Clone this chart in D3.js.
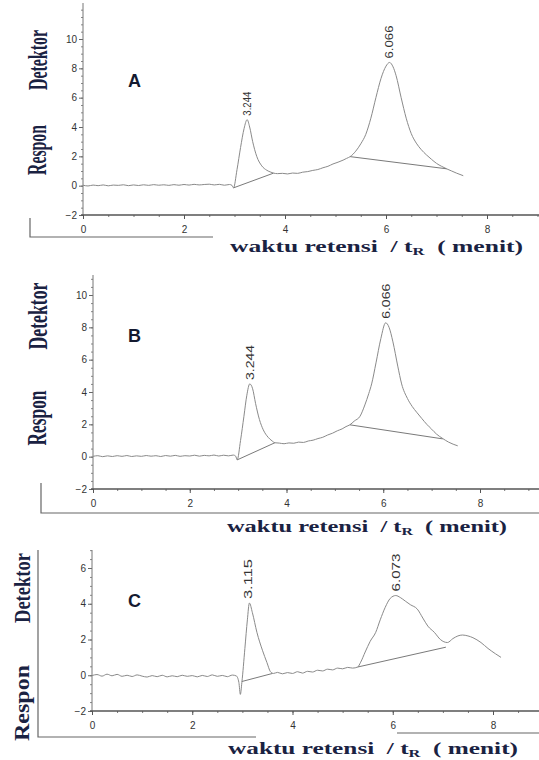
<!DOCTYPE html>
<html>
<head>
<meta charset="utf-8">
<script src="https://cdn.jsdelivr.net/npm/d3@7"></script>
<style>
body { margin: 0; background: #fff; }
svg { display: block; }
</style>
</head>
<body>
<div id="chart"></div>
<script>
// tick labels
const xTicks = [0, 2, 4, 6, 8]
const yTicksAB = [-2, 0, 2, 4, 6, 8, 10]
const yTicksC = [-2, 0, 2, 4, 6]

// chromatogram A : [waktu (menit), respon]
const traceA = [
    [0, 0.03], [0.1, -0.02], [0.2, 0.04], [0.3, 0.0], [0.4, 0.05], [0.5, -0.01], [0.6, 0.04], [0.7, 0.02],
    [0.8, 0.06], [0.9, 0.0], [1.0, 0.05], [1.1, 0.01], [1.2, 0.06], [1.3, 0.02], [1.4, 0.07], [1.5, 0.03],
    [1.6, 0.06], [1.7, 0.02], [1.8, 0.07], [1.9, 0.03], [2.0, 0.08], [2.1, 0.04], [2.2, 0.09], [2.3, 0.05],
    [2.4, 0.08], [2.5, 0.1], [2.6, 0.05], [2.7, 0.09], [2.8, 0.03], [2.9, 0.08], [2.95, 0.02], [2.98, -0.15],
    [3.05, 1.1], [3.12, 2.6], [3.19, 3.9], [3.25, 4.5], [3.3, 4.0], [3.36, 3.0], [3.44, 2.0], [3.54, 1.35],
    [3.64, 1.05], [3.72, 0.92], [3.77, 0.86], [3.85, 0.82], [3.95, 0.84], [4.05, 0.8], [4.15, 0.86], [4.25, 0.84],
    [4.35, 0.92], [4.45, 0.96], [4.55, 1.04], [4.65, 1.1], [4.75, 1.22], [4.85, 1.32], [4.95, 1.48], [5.05, 1.6],
    [5.15, 1.74], [5.22, 1.86], [5.29, 1.98], [5.4, 2.35], [5.5, 2.85], [5.6, 3.5], [5.7, 4.6], [5.8, 6.0],
    [5.9, 7.3], [6.0, 8.15], [6.07, 8.4], [6.14, 8.1], [6.2, 7.5], [6.3, 6.0], [6.4, 4.6], [6.5, 3.55],
    [6.6, 2.9], [6.7, 2.45], [6.8, 2.1], [6.9, 1.8], [7.0, 1.52], [7.1, 1.32], [7.2, 1.15], [7.3, 1.0],
    [7.4, 0.85], [7.53, 0.68]
]
const baselinesA = [[[2.98, -0.15], [3.77, 0.85]], [[5.29, 1.98], [7.2, 1.15]]]
const peaksA = [[3.244, 4.5, "3.244"], [6.066, 8.4, "6.066"]]

// chromatogram B
const traceB = [
    [0, 0.02], [0.1, 0.06], [0.2, 0.0], [0.3, 0.05], [0.4, 0.01], [0.5, 0.06], [0.6, 0.02], [0.7, 0.07],
    [0.8, 0.01], [0.9, 0.05], [1.0, 0.02], [1.1, 0.07], [1.2, 0.03], [1.3, 0.06], [1.4, 0.01], [1.5, 0.07],
    [1.6, 0.03], [1.7, 0.08], [1.8, 0.02], [1.9, 0.06], [2.0, 0.04], [2.1, 0.09], [2.2, 0.03], [2.3, 0.08],
    [2.4, 0.05], [2.5, 0.1], [2.6, 0.04], [2.7, 0.09], [2.8, 0.05], [2.9, 0.1], [2.95, 0.03], [2.98, -0.2],
    [3.05, 1.0], [3.12, 2.5], [3.18, 3.8], [3.24, 4.5], [3.3, 4.2], [3.36, 3.3], [3.44, 2.3], [3.52, 1.66],
    [3.62, 1.2], [3.7, 0.98], [3.76, 0.86], [3.85, 0.84], [3.95, 0.8], [4.05, 0.85], [4.15, 0.83], [4.25, 0.9],
    [4.35, 0.88], [4.45, 0.97], [4.55, 1.02], [4.65, 1.12], [4.75, 1.2], [4.85, 1.34], [4.95, 1.45], [5.05, 1.6],
    [5.15, 1.72], [5.23, 1.86], [5.31, 1.97], [5.4, 2.2], [5.52, 2.5], [5.62, 3.2], [5.7, 3.9], [5.76, 4.5],
    [5.85, 5.8], [5.95, 7.3], [6.05, 8.28], [6.12, 8.0], [6.2, 7.1], [6.3, 5.6], [6.38, 4.5], [6.5, 3.6],
    [6.6, 3.1], [6.69, 2.75], [6.8, 2.35], [6.9, 2.0], [7.0, 1.7], [7.1, 1.4], [7.23, 1.12], [7.35, 0.9],
    [7.54, 0.67]
]
const baselinesB = [[[2.98, -0.2], [3.76, 0.86]], [[5.31, 1.97], [7.23, 1.1]]]
const peaksB = [[3.244, 4.5, "3.244"], [6.066, 8.28, "6.066"]]

// chromatogram C
const traceC = [
    [0, -0.02], [0.1, 0.04], [0.2, -0.05], [0.3, 0.06], [0.4, -0.03], [0.5, 0.05], [0.6, -0.06], [0.7, 0.0],
    [0.8, -0.07], [0.9, 0.02], [1.0, -0.05], [1.1, -0.1], [1.2, -0.02], [1.3, -0.08], [1.4, 0.0], [1.5, -0.09],
    [1.6, -0.03], [1.7, -0.08], [1.8, 0.0], [1.9, -0.06], [2.0, -0.02], [2.1, -0.09], [2.2, -0.01], [2.3, -0.07],
    [2.4, 0.02], [2.5, -0.06], [2.6, -0.01], [2.7, -0.08], [2.8, 0.01], [2.88, -0.04], [2.93, -0.4], [2.96, -1.07],
    [2.99, -0.4], [3.05, 1.5], [3.1, 3.1], [3.14, 4.04], [3.2, 3.5], [3.29, 2.4], [3.4, 1.4], [3.49, 0.71],
    [3.56, 0.2], [3.62, 0.1], [3.7, 0.16], [3.8, 0.08], [3.9, 0.15], [4.0, 0.1], [4.1, 0.2], [4.2, 0.12],
    [4.3, 0.22], [4.4, 0.18], [4.5, 0.28], [4.6, 0.24], [4.7, 0.34], [4.8, 0.3], [4.9, 0.4], [5.0, 0.36],
    [5.1, 0.44], [5.2, 0.4], [5.3, 0.46], [5.36, 0.73], [5.45, 1.3], [5.55, 1.9], [5.66, 2.4], [5.75, 3.1],
    [5.85, 3.8], [5.95, 4.3], [6.06, 4.46], [6.15, 4.35], [6.25, 4.15], [6.35, 3.95], [6.49, 3.7], [6.6, 3.2],
    [6.7, 2.75], [6.83, 2.4], [6.95, 2.0], [7.09, 1.83], [7.2, 2.05], [7.3, 2.2], [7.39, 2.25], [7.5, 2.2],
    [7.6, 2.1], [7.76, 1.83], [7.9, 1.5], [8.05, 1.2], [8.16, 1.0]
]
const baselinesC = [[[2.99, -0.35], [3.6, 0.1]], [[5.3, 0.46], [7.06, 1.57]]]
const peaksC = [[3.115, 4.04, "3.115"], [6.073, 4.46, "6.073"]]

// layout of the three stacked panels
const panels = [
    {
        letter: "A", trace: traceA, baselines: baselinesA, peaks: peaksA, yTicks: yTicksAB,
        xRange: [83, 487], yDomain: [-2, 10], yRange: [215, 39], yTopPx: 3,
        letterPos: [128, 87], detektor: [47, 60, 60, 27], respon: [46, 150, 50, 27],
        title: [230, 252, 293], labelLen: [24, 33],
        frame: [[[30, 218], [30, 237], [213, 237]]]
    },
    {
        letter: "B", trace: traceB, baselines: baselinesB, peaks: peaksB, yTicks: yTicksAB,
        xRange: [93, 480], yDomain: [-2, 10], yRange: [489, 295], yTopPx: 275,
        letterPos: [128, 342], detektor: [47, 316, 67, 27], respon: [46, 418, 55, 27],
        title: [227, 532, 280], labelLen: [35, 35],
        frame: [[[41, 483], [41, 513], [539, 513]]]
    },
    {
        letter: "C", trace: traceC, baselines: baselinesC, peaks: peaksC, yTicks: yTicksC,
        xRange: [92, 493], yDomain: [-2, 6], yRange: [711, 568], yTopPx: 550,
        letterPos: [128, 607], detektor: [30, 588, 70, 24], respon: [29, 703, 76, 22],
        title: [228, 754, 290], labelLen: [40, 38],
        frame: [[[38, 550], [38, 737], [256, 737]], [[397, 733], [539, 733]]]
    }
]

const W = 539, H = 760
const svg = d3.select("#chart")
    .append("svg")
    .attr("width", W)
    .attr("height", H)
    .style("background", "#fff")

const navy = "#1a2242"

panels.forEach(p => {
    const g = svg.append("g")
    const x = d3.scaleLinear().domain([0, 8]).range(p.xRange)
    const y = d3.scaleLinear().domain(p.yDomain).range(p.yRange)
    const xMax = x.invert(W)
    const yMax = y.invert(p.yTopPx)

    //decorative frame left over from the scan
    p.frame.forEach(f => {
        g.append("path")
            .attr("d", d3.line()(f))
            .attr("fill", "none")
            .attr("stroke", "#666")
            .attr("stroke-width", 1.2)
    })

    // y axis minor ticks
    g.append("g")
        .attr("transform", `translate(${x(0)},0)`)
        .call(d3.axisLeft(y)
            .tickValues(d3.range(-2, yMax, 0.5))
            .tickSize(2)
            .tickFormat(""))
        .call(g => g.select(".domain").remove())
        .selectAll("line").attr("stroke", "#888")

    // y axis major ticks
    g.append("g")
        .attr("transform", `translate(${x(0)},0)`)
        .call(d3.axisLeft(y)
            .tickValues(p.yTicks)
            .tickSize(4)
            .tickPadding(2))
        .call(g => g.select(".domain").remove())
        .call(g => g.selectAll("line").attr("stroke", "#666"))
        .selectAll("text")
        .style("font-family", "'Liberation Sans', Arial, sans-serif")
        .style("font-size", "10px")
        .attr("fill", "#333")

    g.append("line")
        .attr("x1", x(0)).attr("x2", x(0))
        .attr("y1", y(-2)).attr("y2", p.yTopPx)
        .attr("stroke", "#777")
        .attr("stroke-width", 1)

    // x axis minor ticks
    g.append("g")
        .attr("transform", `translate(0,${y(-2)})`)
        .call(d3.axisBottom(x)
            .tickValues(d3.range(0, xMax, 0.5))
            .tickSize(2)
            .tickFormat(""))
        .call(g => g.select(".domain").remove())
        .selectAll("line").attr("stroke", "#777")

    // x axis major ticks
    g.append("g")
        .attr("transform", `translate(0,${y(-2)})`)
        .call(d3.axisBottom(x)
            .tickValues(xTicks)
            .tickSize(4)
            .tickPadding(7))
        .call(g => g.select(".domain").remove())
        .call(g => g.selectAll("line").attr("stroke", "#555"))
        .selectAll("text")
        .style("font-family", "'Liberation Sans', Arial, sans-serif")
        .style("font-size", "10px")
        .attr("fill", "#333")

    g.append("line")
        .attr("x1", x(0) - 2).attr("x2", W)
        .attr("y1", y(-2)).attr("y2", y(-2))
        .attr("stroke", "#555")
        .attr("stroke-width", 1.3)

    // the chromatogram trace
    const line = d3.line()
        .x(d => x(d[0]))
        .y(d => y(d[1]))

    g.append("path")
        .datum(p.trace)
        .attr("fill", "none")
        .attr("stroke", "#8a8a8a")
        .attr("stroke-width", 1)
        .attr("stroke-linejoin", "round")
        .attr("d", line.curve(d3.curveMonotoneX))

    // integration baselines
    g.selectAll(".base")
        .data(p.baselines)
        .join("path")
        .attr("fill", "none")
        .attr("stroke", "#7a7a7a")
        .attr("stroke-width", 1)
        .attr("d", d3.line().x(d => x(d[0])).y(d => y(d[1])))

    // retention time labels
    g.selectAll(".peak")
        .data(p.peaks)
        .join("text")
        .attr("transform", d => `translate(${x(d[0]) + 4},${y(d[1]) - 4}) rotate(-90)`)
        .attr("textLength", (d, i) => p.labelLen[i])
        .attr("lengthAdjust", "spacingAndGlyphs")
        .style("font-family", "'Liberation Sans', Arial, sans-serif")
        .style("font-size", "11px")
        .attr("fill", "#333")
        .text(d => d[2])

    //panel letter
    g.append("text")
        .attr("x", p.letterPos[0])
        .attr("y", p.letterPos[1])
        .style("font-family", "'Liberation Sans', Arial, sans-serif")
        .style("font-size", "18px")
        .style("font-weight", "bold")
        .attr("fill", "#141a30")
        .text(p.letter)

    // y axis titles, squeezed to the narrow look of the scan
    const yLab = (spec, txt) => {
        const el = g.append("text")
            .attr("text-anchor", "middle")
            .style("font-family", "'Liberation Serif', 'Times New Roman', serif")
            .style("font-size", spec[3] + "px")
            .style("font-weight", "bold")
            .attr("fill", navy)
            .text(txt)
        const k = spec[2] / el.node().getComputedTextLength()
        el.attr("transform", `translate(${spec[0]},${spec[1]}) rotate(-90) scale(${k},1)`)
    }
    yLab(p.detektor, "Detektor")
    yLab(p.respon, "Respon")

    // x axis title
    const t = g.append("text")
        .attr("x", p.title[0])
        .attr("y", p.title[1])
        .attr("textLength", p.title[2])
        .attr("lengthAdjust", "spacingAndGlyphs")
        .style("font-family", "'Liberation Serif', 'Times New Roman', serif")
        .style("font-size", "17px")
        .style("font-weight", "bold")
        .style("white-space", "pre")
        .attr("fill", navy)
    t.append("tspan").text("waktu retensi  / t")
    t.append("tspan").attr("dy", 3).style("font-size", "11px").text("R")
    t.append("tspan").attr("dy", -3).text("  ( menit)")
})
</script>
</body>
</html>
